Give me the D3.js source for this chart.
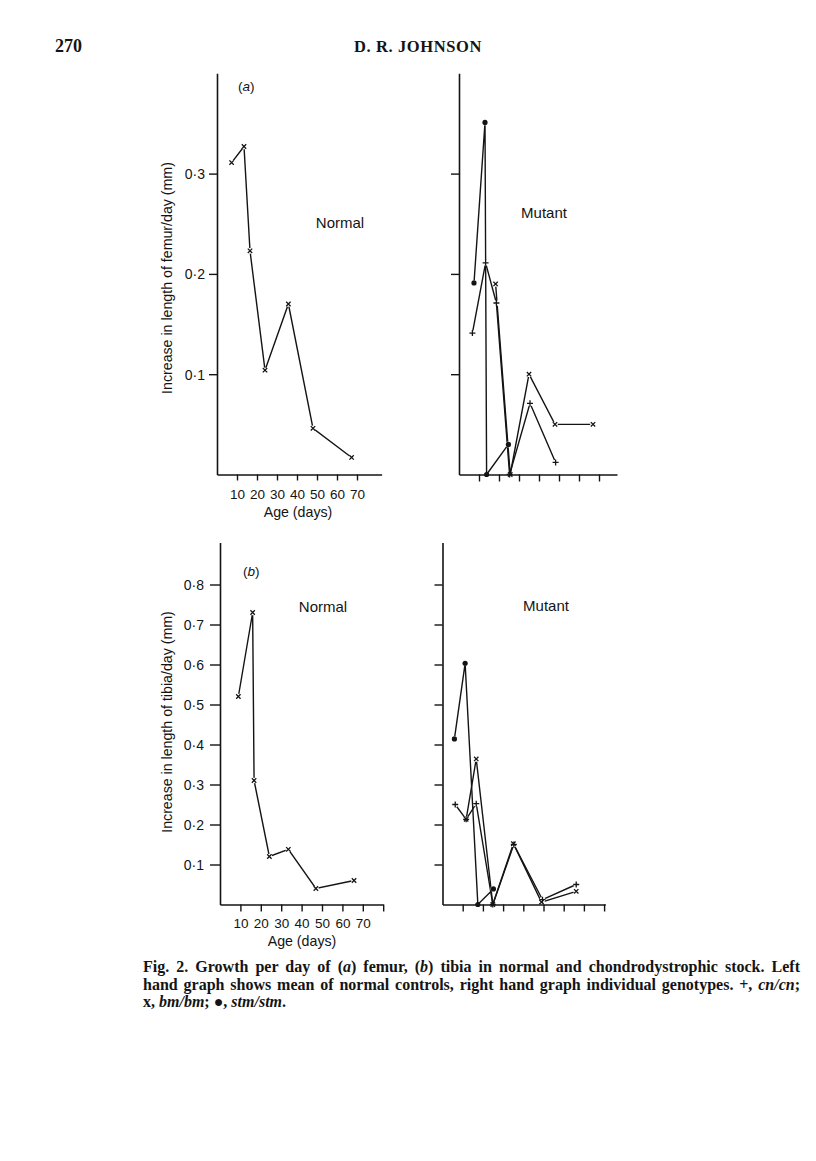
<!DOCTYPE html>
<html>
<head>
<meta charset="utf-8">
<script src="https://cdn.jsdelivr.net/npm/d3@7/dist/d3.min.js"></script>
<style>
  html, body { margin: 0; padding: 0; background: #fff; }
  svg { display: block; }
</style>
</head>
<body>
<svg id="page" width="816" height="1161"></svg>
<script>
// ---------------- DATA ----------------
// Femur (a), normal controls: [age (days), increase (mm/day)]
const femurNormal = [[7.3,0.311],[13.5,0.327],[16.5,0.223],[24,0.104],[35.7,0.170],[48,0.046],[67.3,0.017]];
// Femur (a), mutant genotypes
const femurCn  = [[6.7,0.141],[13.3,0.211],[18.7,0.171],[25.3,0.0],[35.5,0.071],[48.3,0.012]];
const femurBm  = [[18.3,0.190],[25.6,0.0],[35,0.100],[48,0.050],[67,0.050]];
const femurStm = [[7.5,0.191],[13,0.351],[13.8,0.0],[24.7,0.030]];
// Tibia (b), normal controls
const tibiaNormal = [[9,0.52],[16,0.73],[16.7,0.31],[24.2,0.12],[33.5,0.138],[47,0.04],[65.7,0.06]];
// Tibia (b), mutant genotypes
const tibiaCn  = [[6.3,0.25],[11.7,0.213],[16.7,0.252],[24.9,0.0],[35.3,0.150],[49.5,0.012],[66.2,0.05]];
const tibiaBm  = [[11.7,0.213],[16.7,0.364],[24.9,0.0],[35.1,0.152],[49,0.006],[66.2,0.033]];
const tibiaStm = [[5.9,0.414],[11.2,0.603],[17.5,0.0],[25.2,0.039]];

const femurYTicks = [0.1, 0.2, 0.3];
const tibiaYTicks = [0.1, 0.2, 0.3, 0.4, 0.5, 0.6, 0.7, 0.8];
const femurXTicks = [10, 20, 30, 40, 50, 60, 70];
const tibiaXTicks = [10, 20, 30, 40, 50, 60, 70, 80];
const xTickLabels = [10, 20, 30, 40, 50, 60, 70];

const headerText = { page: "270", author: "D. R. JOHNSON" };
const labelFemurY = "Increase in length of femur/day (mm)";
const labelTibiaY = "Increase in length of tibia/day (mm)";
const labelX = "Age (days)";

// ---------------- DRAW ----------------
const svg = d3.select("#page");
const SANS = "'Liberation Sans', Arial, Helvetica, sans-serif";
const SERIF = "'Liberation Serif', 'Times New Roman', serif";
const fmt = d => d3.format(".1f")(d).replace(".", "\u00b7");
const INK = "#141414";

function panel(cfg) {
  const x = d3.scaleLinear().domain([0, cfg.xMax]).range([cfg.x0, cfg.x0 + cfg.xMax * cfg.xPer]);
  const y = d3.scaleLinear().domain([0, cfg.yMax]).range([cfg.y0, cfg.y0 - cfg.yMax * cfg.yPer]);
  const g = svg.append("g");

  const line = d3.line().x(d => x(d[0])).y(d => y(d[1]));
  const gl = g.append("g");
  cfg.series.forEach(s => {
    gl.append("path").datum(s.data).attr("d", line)
      .attr("fill", "none").attr("stroke", INK).attr("stroke-width", 1.4)
      .attr("stroke-linejoin", "miter");
  });
  // small white gaps round the markers, as in the print
  cfg.series.forEach(s => {
    gl.selectAll(null).data(s.data.filter(d => d[1] > 0.004)).enter().append("circle")
      .attr("cx", d => x(d[0])).attr("cy", d => y(d[1])).attr("r", 2.8).attr("fill", "#fff");
  });

  // axes
  const ax = g.append("g").attr("transform", `translate(0,${cfg.y0})`)
    .call(d3.axisBottom(x).tickValues(cfg.xTicks).tickSize(cfg.xTickLen).tickSizeOuter(0)
      .tickFormat(d => (cfg.xLabels && xTickLabels.includes(d)) ? String(d) : ""));
  const ay = g.append("g").attr("transform", `translate(${cfg.x0},0)`)
    .call(d3.axisLeft(y).tickValues(cfg.yTicks).tickSize(cfg.yTickLen).tickSizeOuter(0)
      .tickPadding(cfg.yPad).tickFormat(cfg.yLabels ? fmt : ""));
  [ax, ay].forEach(a => {
    a.select(".domain").attr("stroke", INK).attr("stroke-width", 1.6);
    a.selectAll(".tick line").attr("stroke", INK).attr("stroke-width", 1.4);
    a.selectAll(".tick text").attr("fill", INK).attr("font-family", SANS).attr("font-size", 14);
  });
  ax.selectAll(".tick text").attr("dy", 0).attr("y", cfg.xLabelY - cfg.y0).attr("font-size", 13.5);
  ay.selectAll(".tick text").attr("dy", "0.36em");

  // markers
  const gm = g.append("g").attr("stroke", INK).attr("fill", INK);
  cfg.series.forEach(s => {
    s.data.forEach(d => {
      const px = x(d[0]), py = y(d[1]);
      if (s.marker === "x") {
        const r = 2.2;
        gm.append("path").attr("d", `M${px-r},${py-r}L${px+r},${py+r}M${px-r},${py+r}L${px+r},${py-r}`)
          .attr("stroke-width", 1.3).attr("fill", "none");
      } else if (s.marker === "+") {
        const r = 3;
        gm.append("path").attr("d", `M${px-r},${py}L${px+r},${py}M${px},${py-r}L${px},${py+r}`)
          .attr("stroke-width", 1.3).attr("fill", "none");
      } else {
        gm.append("circle").attr("cx", px).attr("cy", py).attr("r", 2.6).attr("stroke", "none");
      }
    });
  });

  // texts
  if (cfg.yTitle) {
    g.append("text").attr("transform", `translate(${cfg.yTitleX},${cfg.yTitleY}) rotate(-90)`)
      .attr("text-anchor", "middle").attr("font-family", SANS).attr("font-size", 14.2).attr("fill", INK)
      .text(cfg.yTitle);
  }
  if (cfg.xTitle) {
    g.append("text").attr("x", cfg.xTitleX).attr("y", cfg.xTitleY)
      .attr("text-anchor", "middle").attr("font-family", SANS).attr("font-size", 14.2).attr("fill", INK)
      .text(cfg.xTitle);
  }
  if (cfg.tag) {
    const t = g.append("text").attr("x", cfg.tagX).attr("y", cfg.tagY)
      .attr("font-family", SANS).attr("font-size", 13.5).attr("fill", INK);
    t.append("tspan").text("(");
    t.append("tspan").attr("font-style", "italic").text(cfg.tag);
    t.append("tspan").text(")");
  }
  g.append("text").attr("x", cfg.nameX).attr("y", cfg.nameY).attr("text-anchor", "middle")
    .attr("font-family", SANS).attr("font-size", 15).attr("fill", INK).text(cfg.name);
}

// (a) femur, normal
panel({ x0: 217, xPer: 2.0, xMax: 82.3, y0: 474.5, yPer: 1003, yMax: 0.4,
  xTicks: femurXTicks, xTickLen: 6, xLabels: true, xLabelY: 499,
  yTicks: femurYTicks, yTickLen: 8, yPad: 4, yLabels: true,
  series: [{ data: femurNormal, marker: "x" }],
  yTitle: labelFemurY, yTitleX: 172, yTitleY: 278,
  xTitle: labelX, xTitleX: 298, xTitleY: 517,
  tag: "a", tagX: 238, tagY: 91, name: "Normal", nameX: 340, nameY: 228 });

// (a) femur, mutant
panel({ x0: 459, xPer: 2.0, xMax: 79, y0: 474.5, yPer: 1003, yMax: 0.4,
  xTicks: femurXTicks, xTickLen: 7, xLabels: false, xLabelY: 499,
  yTicks: femurYTicks, yTickLen: 8, yPad: 4, yLabels: false,
  series: [{ data: femurCn, marker: "+" }, { data: femurBm, marker: "x" }, { data: femurStm, marker: "o" }],
  name: "Mutant", nameX: 544, nameY: 218 });

// (b) tibia, normal
panel({ x0: 220, xPer: 2.04, xMax: 80, y0: 904.5, yPer: 400, yMax: 0.905,
  xTicks: tibiaXTicks, xTickLen: 7, xLabels: true, xLabelY: 928,
  yTicks: tibiaYTicks, yTickLen: 10, yPad: 6, yLabels: true,
  series: [{ data: tibiaNormal, marker: "x" }],
  yTitle: labelTibiaY, yTitleX: 172, yTitleY: 722,
  xTitle: labelX, xTitleX: 302, xTitleY: 946,
  tag: "b", tagX: 243, tagY: 576, name: "Normal", nameX: 323, nameY: 612 });

// (b) tibia, mutant
panel({ x0: 442.5, xPer: 2.02, xMax: 80.6, y0: 904.5, yPer: 400, yMax: 0.905,
  xTicks: tibiaXTicks, xTickLen: 7, xLabels: false, xLabelY: 928,
  yTicks: tibiaYTicks, yTickLen: 8, yPad: 4, yLabels: false,
  series: [{ data: tibiaCn, marker: "+" }, { data: tibiaBm, marker: "x" }, { data: tibiaStm, marker: "o" }],
  name: "Mutant", nameX: 546, nameY: 611 });

// header
svg.append("text").attr("x", 55).attr("y", 52).attr("font-family", SERIF).attr("font-weight", "bold")
  .attr("font-size", 18).attr("fill", INK).text(headerText.page);
svg.append("text").attr("x", 418).attr("y", 52).attr("text-anchor", "middle").attr("font-family", SERIF)
  .attr("font-weight", "bold").attr("font-size", 16.5).attr("letter-spacing", 0.6).attr("fill", INK)
  .text(headerText.author);

// caption
const capLines = [
  [["Fig. 2. Growth per day of (", 0], ["a", 1], [") femur, (", 0], ["b", 1], [") tibia in normal and chondrodystrophic stock. Left", 0]],
  [["hand graph shows mean of normal controls, right hand graph individual genotypes. +, ", 0], ["cn/cn", 1], [";", 0]],
  [["x, ", 0], ["bm/bm", 1], ["; \u25cf, ", 0], ["stm/stm", 1], [".", 0]]
];
const capX0 = 143, capX1 = 800, capY = [972, 989.5, 1007];
// choose a font size so that the first line nearly fills the measure
const probe = svg.append("text").attr("font-family", SERIF).attr("font-weight", "bold").attr("font-size", 14);
capLines[0].forEach(([s, it]) => probe.append("tspan").attr("font-style", it ? "italic" : "normal").text(s));
const capSize = Math.min(16, 14 * (capX1 - capX0) * 0.975 / probe.node().getComputedTextLength());
probe.remove();
capLines.forEach((ln, i) => {
  const t = svg.append("text").attr("x", capX0).attr("y", capY[i]).attr("font-family", SERIF)
    .attr("font-weight", "bold").attr("font-size", capSize).attr("fill", INK);
  ln.forEach(([s, it]) => t.append("tspan").attr("font-style", it ? "italic" : "normal").text(s));
  if (i < 2) {
    const w = t.node().getComputedTextLength();
    const words = ln.map(p => p[0]).join("").split(" ").length - 1;
    t.attr("word-spacing", Math.max(0, (capX1 - capX0 - w) / words));
  }
});
</script>
</body>
</html>
